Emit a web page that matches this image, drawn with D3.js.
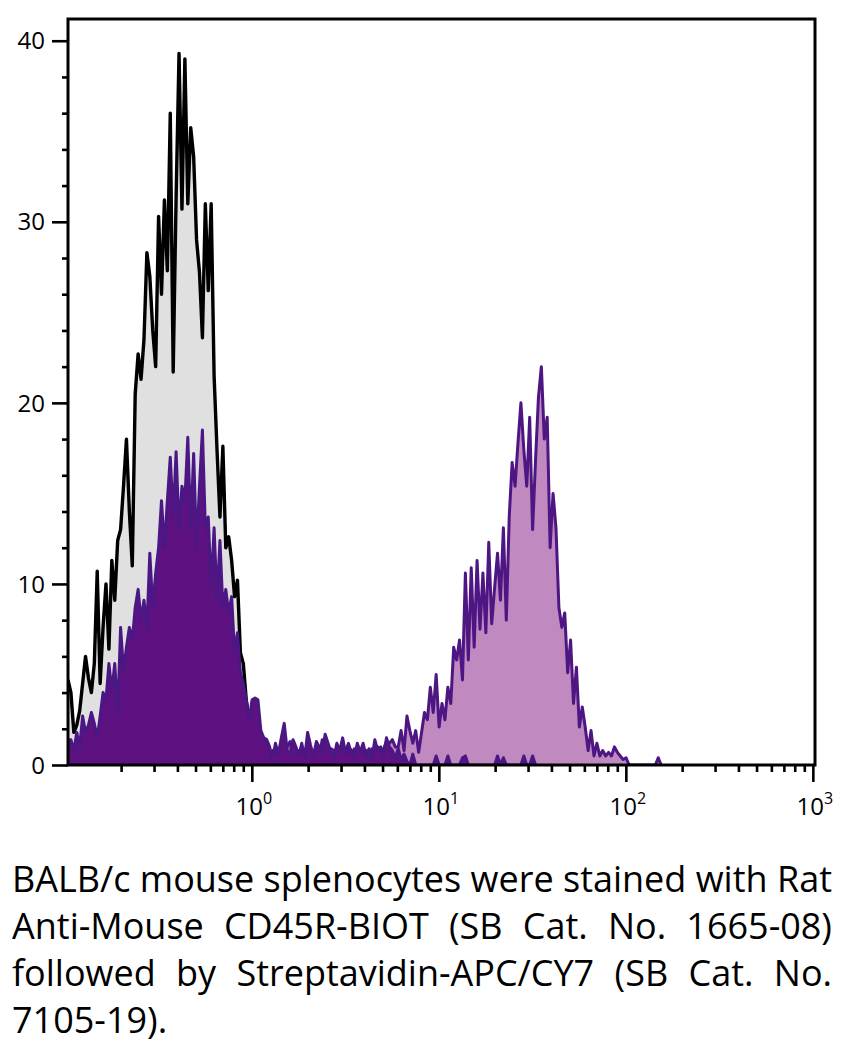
<!DOCTYPE html>
<html>
<head>
<meta charset="utf-8">
<script src="https://cdn.jsdelivr.net/npm/d3@7"></script>
<style>
  body { margin: 0; background: #fff; }
  svg { display: block; }
</style>
</head>
<body>
<svg width="844" height="1044"></svg>
<script>
// histogram channels: 64 per decade, first channel at log10 = -0.983
var channelsPerDecade = 64;
var firstChannelLog = -0.983;

// unstained control (grey), starts at channel 0
var controlStart = 0;
var controlCounts = [4.7,4.0,1.8,2.2,3.0,4.5,6.0,4.8,4.0,5.6,
  10.7,4.5,7.6,10.0,6.4,11.3,9.1,12.4,13.0,15.4,
  18.0,14.0,11.0,20.5,22.7,21.3,23.5,28.3,27.0,24.0,
  22.0,30.3,26.0,31.2,27.3,36.0,21.7,31.4,39.3,30.7,
  39.0,31.0,35.2,33.6,29.0,27.2,23.6,31.0,26.2,31.0,
  21.5,17.4,13.7,17.6,12.0,12.6,11.3,9.3,10.2,6.2,
  5.6,3.6,2.5,1.8,0.8,0.3,0];

// CD45R positive population (light purple), starts at channel 62
var positiveStart = 62;
var positiveCounts = [0.8,1.2,2.0,1.5,1.2,0.6,0.9,0.4,
  0.8,0.3,0.9,0.5,0.4,1.0,1.3,0.3,0.6,0.8,
  0.3,0.8,0.4,0.9,0.7,0.3,0.5,1.4,0.4,0.3,
  0.9,0.8,0.3,0.6,0.4,0.8,1.2,0.6,0.9,0.4,
  0.5,0.3,0.8,0.6,0.9,0.5,1.0,0.6,0.9,1.3,
  1.2,1.4,1.0,1.0,1.9,0.8,2.7,1.9,1.2,1.9,
  0.7,1.8,2.9,2.5,4.3,2.9,5.0,2.1,3.4,2.5,
  4.3,3.4,6.5,5.8,6.9,4.7,10.6,5.8,10.9,6.5,
  11.3,7.5,10.6,7.3,12.3,7.8,9.8,11.7,9.1,13.1,
  8.0,13.7,16.7,15.4,17.8,20.0,17.4,15.4,19.2,13.0,
  16.8,20.3,22.0,18.0,19.2,12.0,15.0,13.1,8.7,7.6,
  8.4,5.1,6.9,3.4,5.4,2.1,3.2,2.1,0.8,1.9,
  0.5,1.2,0.5,0.8,0.5,0.7,0.5,1.0,0.7,0.5,
  0.3,0.4,0,0,0,0,0,0,0,0,
  0,0,0.4,0];

// CD45R negative population (dark purple), starts at channel 0
var negativeStart = 0;
var negativeCounts = [1.4,1.4,0.8,1.8,1.0,2.7,1.8,2.2,2.9,2.3,
  1.5,2.7,4.0,3.6,5.6,4.1,5.6,2.9,7.6,5.2,
  6.5,7.6,6.9,8.7,9.7,8.0,9.1,7.6,11.7,8.7,
  10.6,12.0,14.6,12.0,14.6,17.0,13.7,17.3,13.0,15.4,
  14.6,18.1,13.0,17.2,12.0,15.4,18.5,13.1,13.7,9.8,
  13.1,9.1,12.4,8.7,9.7,8.4,9.3,6.2,7.3,5.1,
  4.5,3.6,2.5,3.6,3.7,3.6,1.9,1.5,1.4,1.0,
  0.3,1.2,0.6,1.5,2.3,0.8,0.6,1.4,1.0,0.5,
  1.2,0.4,1.8,1.1,0.5,1.3,1.0,0.6,1.7,1.2,
  0.7,0.4,1.2,0.8,1.5,0.6,1.0,0.8,0.4,1.2,
  0.7,1.2,0.5,0.9,0.3,1.4,0.8,1.0,0.5,1.5,
  1.0,0.8,0.4,0.9,0.3,0.6,0.2,0,0.6,0,
  0,0,0,0,0,0,0.5,0,0,0,
  0.5,0,0,0,0,0.4,0.5,0,0,0,
  0,0,0,0,0,0,0,0.5,0,0.4,
  0,0,0,0,0,0,0.5,0,0,0.5,
  0];

var yTicks = [0, 10, 20, 30, 40];
var yMinorStep = 2;
var xDecades = [0, 1, 2, 3];

var captionLines = [
  'BALB/c mouse splenocytes were stained with Rat',
  'Anti-Mouse CD45R-BIOT (SB Cat. No. 1665-08)',
  'followed by Streptavidin-APC/CY7 (SB Cat. No.',
  '7105-19).'
];

var svg = d3.select('svg');
var font = '"Open Sans", "Noto Sans", sans-serif';

// plot frame
var plotLeft = 68, plotRight = 815, plotTop = 19, plotBottom = 765;

var xScale = d3.scaleLog()
  .domain([Math.pow(10, -0.983), Math.pow(10, 3.0115)])
  .range([plotLeft, plotRight]);

var yScale = d3.scaleLinear()
  .domain([0, 41.2])
  .range([plotBottom, plotTop]);

// turn counts into {v, c} points on the channel scale
var toPoints = (start, counts) => counts.map((c, i) => ({
  v: Math.pow(10, firstChannelLog + (start + i) / channelsPerDecade),
  c: c
}));

var area = d3.area()
  .x(d => xScale(d.v))
  .y0(yScale(0))
  .y1(d => yScale(d.c));

var line = d3.line()
  .x(d => xScale(d.v))
  .y(d => yScale(d.c));

svg.append('clipPath').attr('id', 'plotClip')
  .append('rect')
  .attr('x', plotLeft).attr('y', plotTop)
  .attr('width', plotRight - plotLeft).attr('height', plotBottom - plotTop);

var plot = svg.append('g').attr('clip-path', 'url(#plotClip)');

var series = [
  {pts: toPoints(controlStart, controlCounts), fill: '#e0e0e0', stroke: '#000', w: 3.4},
  {pts: toPoints(positiveStart, positiveCounts), fill: '#c08ac1', stroke: '#4e1683', w: 3},
  {pts: toPoints(negativeStart, negativeCounts), fill: '#5e1180', stroke: '#4a1785', w: 3}
];

series.forEach(s => {
  plot.append('path').datum(s.pts)
    .attr('d', area)
    .attr('fill', s.fill);
  plot.append('path').datum(s.pts)
    .attr('d', line)
    .attr('fill', 'none')
    .attr('stroke', s.stroke)
    .attr('stroke-width', s.w)
    .attr('stroke-linejoin', 'round');
});

// y axis: major + minor ticks
var yMinor = d3.range(0, 41, yMinorStep).filter(v => v % 10 !== 0);
var gy = svg.append('g').attr('transform', 'translate(' + plotLeft + ',0)');
gy.call(d3.axisLeft(yScale).tickValues(yTicks).tickSize(16).tickFormat(''));
gy.append('g').call(d3.axisLeft(yScale).tickValues(yMinor).tickSize(6).tickFormat(''));
gy.selectAll('.domain').remove();
gy.selectAll('line').attr('stroke', '#000').attr('stroke-width', 2.6);

svg.append('g').selectAll('text').data(yTicks).enter()
  .append('text')
  .attr('x', 45)
  .attr('y', d => yScale(d))
  .attr('dy', '0.36em')
  .attr('text-anchor', 'end')
  .attr('font-family', font)
  .attr('font-size', 24)
  .text(d => d);

// x axis: decades + minor ticks
var xMajor = xDecades.map(d => Math.pow(10, d));
var xMinor = [];
[-1, 0, 1, 2].forEach(d => {
  d3.range(2, 10).forEach(k => xMinor.push(k * Math.pow(10, d)));
});
var gx = svg.append('g').attr('transform', 'translate(0,' + plotBottom + ')');
gx.call(d3.axisBottom(xScale).tickValues(xMajor).tickSize(17).tickFormat(''));
gx.append('g').call(d3.axisBottom(xScale).tickValues(xMinor).tickSize(7).tickFormat(''));
gx.selectAll('.domain').remove();
gx.selectAll('line').attr('stroke', '#000').attr('stroke-width', 2.6);

var xl = svg.append('g').selectAll('text').data(xDecades).enter()
  .append('text')
  .attr('x', d => xScale(Math.pow(10, d)) + 2)
  .attr('y', 815)
  .attr('text-anchor', 'middle')
  .attr('font-family', font)
  .attr('font-size', 24)
  .text('10');
xl.append('tspan')
  .attr('dy', -11)
  .attr('font-size', 16)
  .text(d => d);

// frame
svg.append('rect')
  .attr('x', plotLeft).attr('y', plotTop)
  .attr('width', plotRight - plotLeft).attr('height', plotBottom - plotTop)
  .attr('fill', 'none')
  .attr('stroke', '#000')
  .attr('stroke-width', 3);

// caption, justified between 12 and 832
var capLeft = 12, capRight = 832, capTop = 892, capStep = 47;
var probe = svg.append('text').attr('font-family', font).attr('font-size', 36)
  .text(captionLines[0]);
var capSize = Math.min(36, 36 * (capRight - capLeft) / probe.node().getComputedTextLength());
probe.remove();

var cap = svg.append('g')
  .attr('font-family', font)
  .attr('font-size', capSize)
  .attr('fill', '#000');

captionLines.forEach((ln, li) => {
  var words = ln.split(' ');
  var y = capTop + li * capStep;
  var nodes = words.map(w => cap.append('text').attr('y', y).text(w));
  var widths = nodes.map(n => n.node().getComputedTextLength());
  var total = d3.sum(widths);
  var gap = (li < captionLines.length - 1 && words.length > 1)
    ? (capRight - capLeft - total) / (words.length - 1)
    : capSize * 0.26;
  var xPos = capLeft;
  nodes.forEach((n, i) => {
    n.attr('x', xPos);
    xPos += widths[i] + gap;
  });
});
</script>
</body>
</html>
